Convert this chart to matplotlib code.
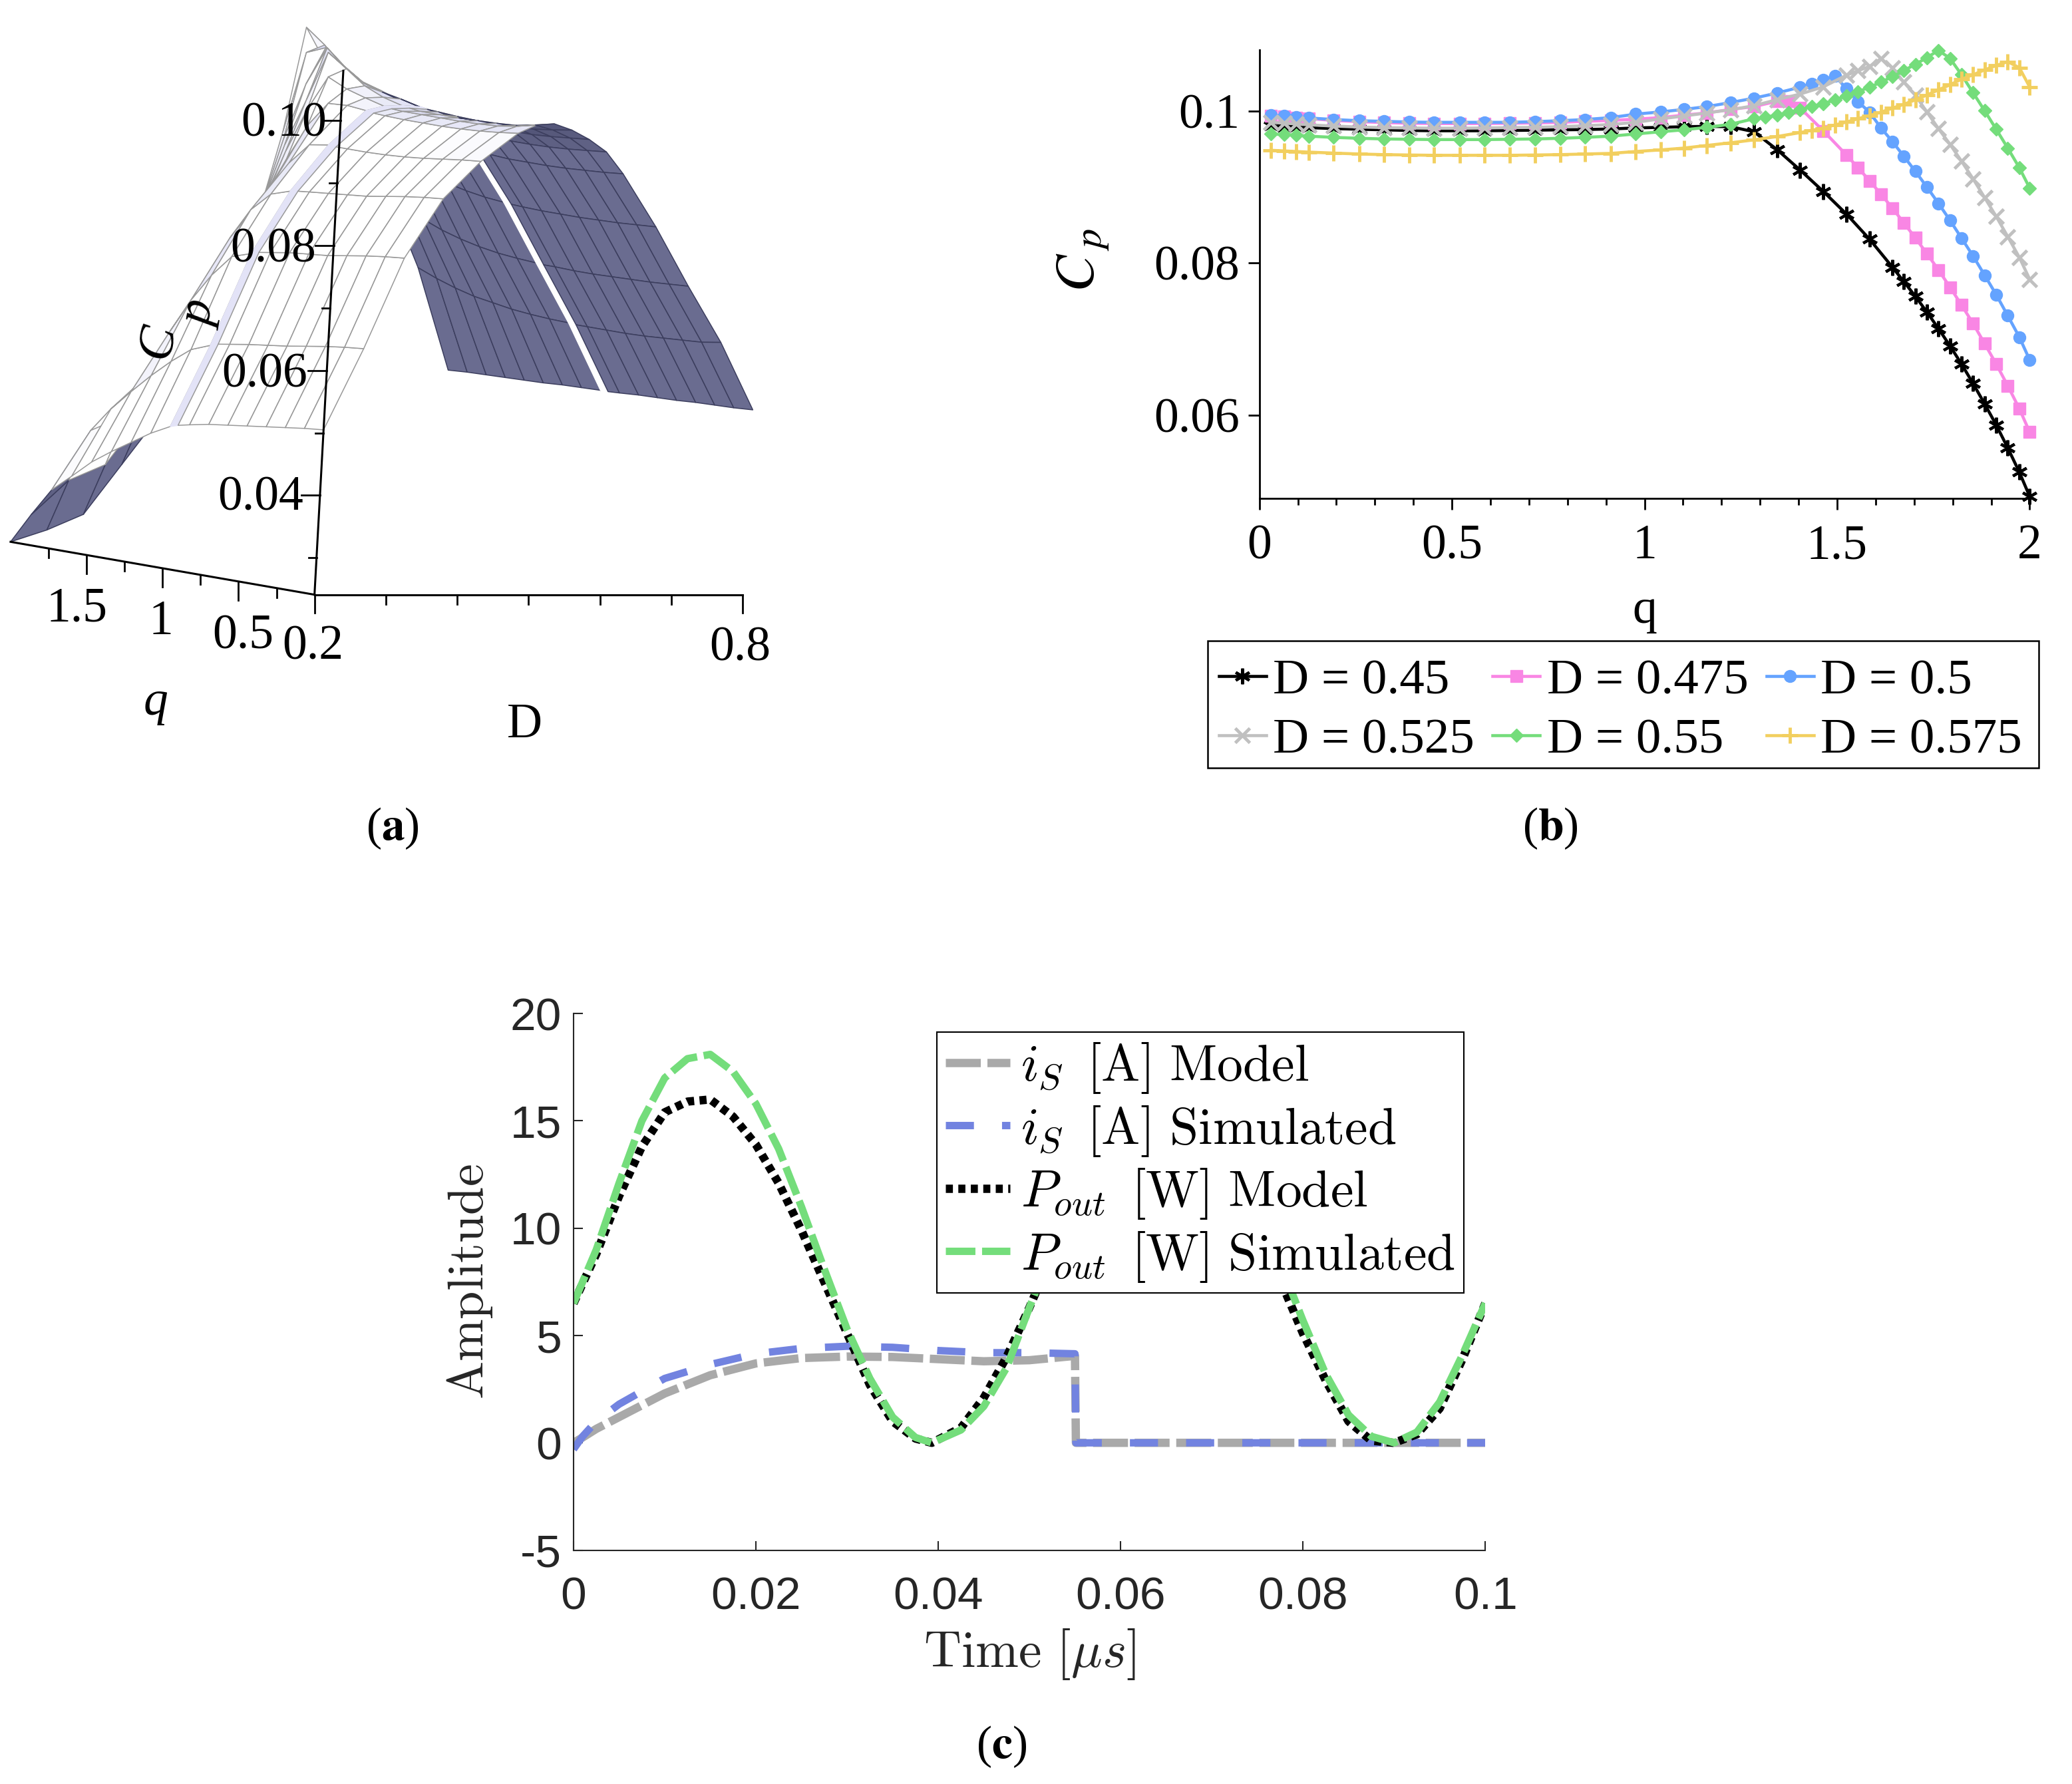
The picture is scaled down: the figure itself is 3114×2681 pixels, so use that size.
import matplotlib
matplotlib.use('Agg')
import matplotlib.pyplot as plt
from matplotlib.collections import PolyCollection
from matplotlib.colors import to_rgb
from matplotlib.font_manager import FontProperties
from matplotlib.patches import Rectangle
from matplotlib.ticker import MultipleLocator
import numpy as np

plt.rcParams['font.family'] = ['Liberation Serif', 'DejaVu Serif']
plt.rcParams['mathtext.fontset'] = 'stix'

W, H = 3114, 2681
VW = 1568  # layout is worked out on a 1568 wide view of the picture
S = W / VW
VH = H / S

# panel (a): surface table, one list per D, values along surf_q
surf_D = [0.2, 0.25, 0.3, 0.35, 0.4, 0.45, 0.475, 0.5, 0.525, 0.55, 0.575, 0.6, 0.65, 0.7, 0.75, 0.8]
surf_q = [0, 0.125, 0.25, 0.375, 0.5, 0.625, 0.75, 0.875, 0.95, 1, 1.125, 1.25, 1.375, 1.5, 1.625, 1.75, 1.875, 2]
cp_20 = [.0505, .0502, .0498, .0494, .0490, .0486, .0482, .0476, .0472, .0468, .0452, .0432, .0412, .0390, .0362, .0335, .0290, .0241]
cp_25 = [.0635, .0632, .0628, .0623, .0618, .0614, .0610, .0605, .0602, .0598, .0586, .0562, .0534, .0503, .0470, .0430, .0345, .0260]
cp_30 = [.0780, .0777, .0773, .0768, .0763, .0760, .0757, .0752, .0749, .0745, .0735, .0700, .0655, .0600, .0525, .0455, .0370, .0285]
cp_35 = [.0875, .0872, .0868, .0863, .0858, .0855, .0852, .0849, .0847, .0845, .0835, .0805, .0755, .0690, .0615, .0535, .0450, .0365]
cp_40 = [.0935, .0932, .0928, .0924, .0921, .0919, .0918, .0918, .0918, .0919, .0914, .0880, .0830, .0770, .0705, .0625, .0535, .0445]
cp_45 = [.0980, .0976, .0973, .0971, .0970, .0970, .0970, .0971, .0972, .0974, .0977, .0975, .0935, .0876, .0806, .0725, .0623, .0493]
cp_475 = [.0993, .0986, .0981, .0979, .0978, .0978, .0978, .0978, .0979, .0981, .0989, .0998, .1012, .0955, .0883, .0800, .0700, .0577]
cp_50 = [.0995, .0988, .0982, .0980, .0979, .0978, .0978, .0978, .0980, .0982, .0990, .1003, .1025, .1046, .0965, .0888, .0790, .0672]
cp_525 = [.0985, .0980, .0976, .0974, .0973, .0974, .0975, .0977, .0978, .0980, .0987, .0993, .1002, .1022, .1048, .0985, .0893, .0778]
cp_55 = [.0970, .0967, .0964, .0962, .0962, .0963, .0964, .0966, .0968, .0971, .0975, .0980, .0990, .0999, .1019, .1043, .1030, .0898]
cp_575 = [.0950, .0947, .0944, .0942, .0941, .0941, .0941, .0943, .0945, .0947, .0951, .0956, .0963, .0975, .0992, .1012, .1042, .1065]
cp_60 = [.0915, .0912, .0910, .0908, .0907, .0907, .0907, .0909, .0910, .0912, .0917, .0924, .0933, .0947, .0963, .0985, .1000, .1017]
cp_65 = [.0830, .0828, .0826, .0825, .0824, .0824, .0824, .0825, .0826, .0827, .0830, .0835, .0842, .0852, .0865, .0885, .0905, .0940]
cp_70 = [.0735, .0733, .0731, .0730, .0729, .0728, .0728, .0729, .0729, .0730, .0732, .0735, .0740, .0747, .0756, .0768, .0785, .0805]
cp_75 = [.0645, .0640, .0638, .0636, .0634, .0633, .0633, .0633, .0633, .0634, .0635, .0637, .0640, .0645, .0650, .0658, .0668, .0680]
cp_80 = [.0537, .0535, .0534, .0533, .0531, .0530, .0529, .0527, .0526, .0526, .0525, .0524, .0522, .0521, .0520, .0519, .0518, .0516]

# panel (b)
q_base = [.03, .064, .095, .128, .193, .259, .324, .389, .454, .52, .585, .65, .716, .781, .846, .912, .977, 1.042, 1.102, 1.162, 1.224, 1.284]
q_fine = [1.673, 1.703, 1.733, 1.763, 1.793, 1.823, 1.853, 1.883, 1.913, 1.943, 1.973, 2.0]

q_045 = q_base + [1.344, 1.404, 1.464, 1.524, 1.584, 1.644] + q_fine
cp_045 = [.09802, .09789, .09785, .09781, .09769, .0976, .09752, .09744, .0974, .0974, .0974, .09744, .09748, .09752, .09756, .09764, .09777, .09785, .09793, .09798, .09793, .09727,
          .09492, .09223, .08942, .08645, .08314, .07942,
          .07756, .07562, .07355, .07137, .06909, .0667, .06413, .06145, .05868, .05566, .05248, .04926]
q_0475 = q_base + [1.344, 1.374, 1.404, 1.464, 1.524, 1.554, 1.584, 1.614, 1.644] + q_fine
cp_0475 = [.09934, .09926, .09913, .09901, .09876, .0986, .09847, .09839, .09835, .09835, .09835, .09839, .09843, .09851, .09864, .09876, .09893, .09913, .09946, .09975, .10021, .10058,
           .10128, .10128, .10041, .0974, .09422, .09256, .09083, .08905, .08719,
           .08529, .08331, .08124, .07909, .07682, .07446, .07203, .06938, .0667, .06384, .06083, .05773]
q_05 = q_base + [1.344, 1.404, 1.434, 1.464, 1.494, 1.524, 1.554, 1.584, 1.614, 1.644] + q_fine
cp_05 = [.09946, .09934, .09921, .09909, .09888, .09872, .09864, .09855, .09851, .09851, .09851, .09851, .0986, .09872, .09888, .09913, .09959, .09988, .10021, .10058, .10112, .10169,
         .10236, .10314, .10355, .10413, .10459, .10298, .10124, .09985, .09777, .09595,
         .09405, .09207, .09, .08785, .08562, .08327, .08091, .07839, .07583, .07306, .07025, .06723]
q_0525 = q_base + [1.344, 1.404, 1.464, 1.524, 1.554, 1.584, 1.614, 1.644] + q_fine
cp_0525 = [.09851, .09839, .09831, .09818, .09802, .09789, .09781, .09777, .09773, .09773, .09777, .09781, .09785, .09793, .09806, .09822, .09851, .09897, .09934, .09975, .10017, .1007,
           .10149, .10223, .10318, .10471, .10529, .10587, .1069, .10566,
           .1038, .10207, .09988, .09769, .09562, .09339, .09107, .0886, .08612, .08347, .08074, .07785]
q_055 = q_base + [1.314, 1.344, 1.374, 1.404, 1.434, 1.464, 1.494, 1.524, 1.554, 1.584, 1.614, 1.644] + q_fine
cp_055 = [.09698, .0969, .09682, .09669, .09653, .09641, .09632, .09628, .09624, .09624, .09624, .09628, .09632, .09641, .09653, .09669, .09698, .09727, .09752, .09785, .09826, .09898,
          .09918, .09947, .09979, .10015, .10058, .10096, .10146, .10199, .10254, .10313, .1038, .10453,
          .10532, .10614, .10702, .10798, .10693, .10477, .1024, .10003, .0976, .09512, .09254, .08985]
q_0575 = q_base + [1.344, 1.404, 1.434, 1.464, 1.494, 1.524, 1.554, 1.584, 1.614, 1.644] + q_fine
cp_0575 = [.09483, .09475, .09467, .09459, .09446, .09434, .09426, .09421, .09417, .09417, .09417, .09417, .09421, .09426, .09434, .09442, .09467, .09488, .09512, .09547, .09582, .0962,
           .09664, .09716, .09746, .09775, .09816, .09854, .09898, .09941, .09985, .10038,
           .10088, .10146, .1021, .10278, .10345, .10418, .10477, .10541, .10599, .10649, .1057, .10316]

# panel (c)
t_p = [0, .0025, .005, .0075, .01, .0125, .015, .0175, .02, .0225, .025, .0275, .03, .0325, .035, .0375, .0393, .0425, .045, .0475, .05,
       .0525, .055, .0575, .06, .0625, .065, .0675, .07, .0725, .075, .0775, .08, .0825, .085, .0875, .09, .0925, .095, .0975, .1]
p_sim = [6.5, 9.0, 12.1, 15.0, 17.0, 17.9, 18.1, 17.3, 15.8, 13.7, 11.0, 8.1, 5.3, 3.0, 1.2, .25, 0, .6, 1.7, 3.5, 6.3,
         9.0, 12.1, 15.0, 17.0, 17.9, 18.1, 17.3, 15.8, 13.7, 11.0, 8.4, 5.7, 3.2, 1.3, .3, 0, .5, 1.9, 4.1, 6.5]
p_model = [6.5, 8.8, 11.5, 13.8, 15.4, 15.9, 16.0, 15.2, 13.9, 12.1, 9.9, 7.5, 5.1, 2.7, 1.0, .2, 0, .7, 2.1, 4.0, 6.3,
           8.8, 11.5, 13.8, 15.4, 15.9, 16.0, 15.2, 13.9, 12.1, 9.9, 7.6, 5.1, 2.9, 1.0, .1, 0, .4, 1.6, 3.9, 6.5]
t_i = [0, .001, .0025, .005, .01, .015, .02, .025, .03, .035, .04, .045, .05, .055, .0551, .1]
i_model = [0, .25, .65, 1.2, 2.3, 3.15, 3.7, 3.95, 4.02, 4.0, 3.9, 3.8, 3.85, 4.05, 0, 0]
i_sim = [-.3, .3, 1.0, 1.8, 3.0, 3.65, 4.15, 4.4, 4.5, 4.45, 4.3, 4.2, 4.2, 4.15, 0, 0]

fig = plt.figure(figsize=(W / 100, H / 100), dpi=100)


def axes_px(x0, y0, x1, y1):
    # rectangle on the 1568 wide view, y from the top
    return fig.add_axes([x0 / VW, 1 - y1 / VH, (x1 - x0) / VW, (y1 - y0) / VH])


# ---------- (a) ----------
ax_a = fig.add_axes([0, 0, 1, 1])
ax_a.set_xlim(0, VW)
ax_a.set_ylim(VH, 0)
ax_a.axis('off')

C0 = 0.0241


def project(D, q, c):
    D, q, c = np.broadcast_arrays(D, q, c)
    x = 238 + 540 * (D - 0.2) - 115 * q + 260 * (c - C0)
    y = 450 - 20 * q - 4725 * (c - C0)
    return x, y


def mix(c1, c2, t):
    return tuple((1 - t) * a + t * b for a, b in zip(to_rgb(c1), to_rgb(c2)))


surf = np.array([cp_20, cp_25, cp_30, cp_35, cp_40, cp_45, cp_475, cp_50, cp_525, cp_55, cp_575, cp_60, cp_65, cp_70, cp_75, cp_80])
polys, faces, edges = [], [], []
# back to front: the far end of q is painted first
for j in range(len(surf_q) - 2, -1, -1):
    for i in range(len(surf_D) - 1):
        corners = [(i, j), (i + 1, j), (i + 1, j + 1), (i, j + 1)]
        pts = [tuple(float(v) for v in project(surf_D[a], surf_q[b], surf[a, b])) for a, b in corners]
        xs = np.array([p[0] for p in pts])
        ys = -np.array([p[1] for p in pts])
        area = 0.5 * np.sum(xs * np.roll(ys, -1) - np.roll(xs, -1) * ys)
        t = min(1, abs(area) / ((surf_D[i + 1] - surf_D[i]) * (surf_q[j + 1] - surf_q[j])) / 60000)
        tear = surf_q[j] == 0.95
        # the coarse mesh pokes folded cells past the outline, keep those light
        d, q = surf_D[i], surf_q[j]
        patch = (d < 0.4 and q >= 1.875) or (d < 0.25 and q >= 1.75)
        poke = d < 0.6 and q >= 1.25 and not patch
        if area > 0 or poke:
            faces.append('#e3e3f7' if tear else mix('#d4d5f0', '#ffffff', t))
            edges.append('#e3e3f7' if tear else '#999999')
        else:
            faces.append('#ffffff' if tear else mix('#4a4c6e', '#6a6c90', t))
            edges.append('#ffffff' if tear else '#3c3e5e')
        polys.append(pts)
ax_a.add_collection(PolyCollection(polys, facecolors=faces, edgecolors=edges, linewidths=1.1, zorder=2))

# box axes
ax_a.plot(*project(np.array([0.2, 0.8]), 0, C0), color='k', lw=2.2, zorder=3)
ax_a.plot(*project(0.2, np.array([0, 2.0]), C0), color='k', lw=2.2, zorder=3)
ax_a.plot(*project(0.2, 0, np.array([C0, 0.108])), color='k', lw=2.2, zorder=3)
for d in np.arange(0.2, 0.81, 0.1):
    x, y = project(d, 0, C0)
    ax_a.plot([x, x], [y, y + (14 if d < 0.21 or d > 0.79 else 7)], color='k', lw=2, zorder=3)
for qt in np.arange(0.25, 2, 0.25):
    x, y = project(0.2, qt, C0)
    ax_a.plot([x, x], [y, y + (14 if abs(qt % 0.5) < 0.01 else 7)], color='k', lw=2, zorder=3)
for ct in np.arange(0.03, 0.101, 0.01):
    x, y = project(0.2, 0, ct)
    major = abs(ct * 100 % 2) < 0.01 or abs(ct * 100 % 2 - 2) < 0.01
    ax_a.plot([x - (14 if major else 6), x], [y, y], color='k', lw=2, zorder=3)

FS = 53
for s, x, y in [('0.10', 215, 94), ('0.08', 207, 189), ('0.06', 200, 284), ('0.04', 197, 377),
                ('1.5', 58, 461), ('1', 122, 471), ('0.5', 184, 482), ('0.2', 237, 490), ('0.8', 560, 491)]:
    ax_a.text(x, y, s, fontsize=FS, ha='center', va='center', zorder=5)
ax_a.text(118, 532, 'q', fontsize=FS, style='italic', ha='center', va='center')
ax_a.text(397, 549, 'D', fontsize=FS, ha='center', va='center')
ax_a.text(120, 258, 'C', fontsize=FS + 2, style='italic', rotation=80, ha='center', va='center', zorder=5)
ax_a.text(152, 238, 'p', fontsize=FS, style='italic', rotation=80, ha='center', va='center', zorder=5)

# captions
for s, x, y in [(r'($\mathbf{a}$)', 297, 627), (r'($\mathbf{b}$)', 1173, 627), (r'($\mathbf{c}$)', 758, 1322)]:
    ax_a.text(x, y, s, fontsize=50, ha='center', va='center')

# ---------- (b) ----------
ax_b = axes_px(953, 38, 1536, 377)
series_b = [
    (q_045, cp_045, 'D = 0.45', 'k', (6, 2, 0), 17, 3),
    (q_0475, cp_0475, 'D = 0.475', '#f986e4', 's', 12.5, 1),
    (q_05, cp_05, 'D = 0.5', '#64a3ff', 'o', 13, 1),
    (q_0525, cp_0525, 'D = 0.525', '#c0c0c0', 'x', 16, 3.5),
    (q_055, cp_055, 'D = 0.55', '#74dd7b', 'D', 10, 1),
    (q_0575, cp_0575, 'D = 0.575', '#f2cf5f', '+', 17, 3.5),
]
lines_b = []
for qs, cs, lab, col, mk, ms, mew in series_b:
    lines_b += ax_b.plot(qs, cs, color=col, lw=3.3, marker=mk, ms=ms, mew=mew, label=lab, clip_on=False)
ax_b.set_xlim(0, 2)
ax_b.set_ylim(0.04904, 0.108)
ax_b.set_xticks([0, 0.5, 1, 1.5, 2])
ax_b.set_xticklabels(['0', '0.5', '1', '1.5', '2'])
ax_b.xaxis.set_minor_locator(MultipleLocator(0.1))
ax_b.set_yticks([0.06, 0.08, 0.1])
ax_b.set_yticklabels(['0.06', '0.08', '0.1'])
ax_b.tick_params(axis='both', which='major', labelsize=53, width=2, length=12)
ax_b.tick_params(axis='x', which='major', pad=16)
ax_b.tick_params(axis='y', which='major', pad=9)
ax_b.tick_params(axis='x', which='minor', width=2, length=7)
ax_b.spines['top'].set_visible(False)
ax_b.spines['right'].set_visible(False)
for side in ('left', 'bottom'):
    ax_b.spines[side].set_linewidth(2)
ax_b.set_xlabel('q', fontsize=53, labelpad=21)
ax_b.set_ylabel(r'$C\,_p$', fontsize=60)
ax_b.yaxis.set_label_coords(-0.192, 0.531)
# row-wise order in the legend box; frame drawn on its own so the rows sit a little low in it
order = [0, 3, 1, 4, 2, 5]
leg_b = ax_b.legend([lines_b[k] for k in order], [series_b[k][2] for k in order],
                    ncol=3, loc='upper left', bbox_to_anchor=(914 / VW, 1 - 490 / VH),
                    bbox_transform=fig.transFigure, fontsize=54, frameon=False,
                    borderaxespad=0, handlelength=0.95, handletextpad=0.14,
                    columnspacing=0.36, labelspacing=0.28, borderpad=0.22)
fig.add_artist(Rectangle((914 / VW, 1 - 581 / VH), 629 / VW, 96 / VH, transform=fig.transFigure,
                         fill=False, edgecolor='k', linewidth=1.8))

# ---------- (c) ----------
ax_c = axes_px(434, 767, 1124, 1173)
ax_c.plot(t_i, i_model, color='#a9a9a9', lw=9, dashes=(4.2, 0.8), label=r'$i_S\ \,[\mathrm{A}]\ \mathrm{Model}$')
ax_c.plot(t_i, i_sim, color='#7283e0', lw=8, dashes=(3.8, 3.8), label=r'$i_S\ \,[\mathrm{A}]\ \mathrm{Simulated}$')
ax_c.plot(t_p, p_model, color='k', lw=9, dashes=(0.85, 0.65), label=r'$P_{out}\ \,[\mathrm{W}]\ \mathrm{Model}$')
ax_c.plot(t_p, p_sim, color='#74dd7b', lw=8, dashes=(4, 0.9), label=r'$P_{out}\ \,[\mathrm{W}]\ \mathrm{Simulated}$')
ax_c.set_xlim(0, 0.1)
ax_c.set_ylim(-5, 20)
ax_c.set_xticks([0, 0.02, 0.04, 0.06, 0.08, 0.1])
ax_c.set_xticklabels(['0', '0.02', '0.04', '0.06', '0.08', '0.1'], family='Liberation Sans', color='#262626')
ax_c.set_yticks([-5, 0, 5, 10, 15, 20])
ax_c.set_yticklabels(['-5', '0', '5', '10', '15', '20'], family='Liberation Sans', color='#262626')
ax_c.tick_params(axis='both', direction='in', labelsize=50, width=1.5, length=10, color='#262626')
ax_c.tick_params(axis='x', pad=28)
ax_c.tick_params(axis='y', pad=13)
ax_c.spines['top'].set_visible(False)
ax_c.spines['right'].set_visible(False)
for side in ('left', 'bottom'):
    ax_c.spines[side].set_linewidth(1.5)
    ax_c.spines[side].set_color('#262626')
ax_c.set_xlabel(r'$\mathrm{Time}\ [\mu s]$', fontsize=56, math_fontfamily='cm', labelpad=9, color='#262626')
ax_c.set_ylabel(r'$\mathrm{Amplitude}$', fontsize=55, math_fontfamily='cm', labelpad=17, color='#262626')
leg_c = ax_c.legend(loc='upper left', bbox_to_anchor=(709 / VW, 1 - 781 / VH),
                    bbox_transform=fig.transFigure, prop=FontProperties(size=56, math_fontfamily='cm'),
                    fancybox=False, edgecolor='k', framealpha=1, borderaxespad=0, handlelength=1.25,
                    handletextpad=0.2, labelspacing=0.16, borderpad=0.17)
leg_c.get_frame().set_linewidth(1.5)

fig.savefig('out.png', dpi=100)
